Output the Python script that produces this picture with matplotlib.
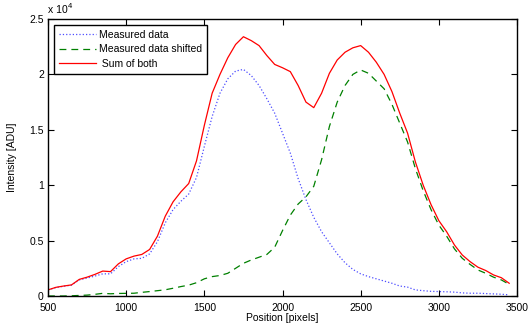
import matplotlib
matplotlib.use("Agg")
import matplotlib.pyplot as plt
from matplotlib.ticker import FixedLocator, FuncFormatter

plt.rcParams['font.family'] = ['Liberation Sans', 'DejaVu Sans']

# Detector position (pixels)
position = list(range(500, 3451, 50))

measured = [550, 760, 880, 980, 1450, 1620, 1800, 2000, 2000, 2650,
            3100, 3350, 3400, 3800, 4900, 6600, 7800, 8550, 9200, 10700,
            13500, 16200, 18300, 19600, 20300, 20450, 19900, 19000, 17800, 16500,
            14700, 12900, 10600, 8700, 7100, 5800, 4800, 3800, 3000, 2400,
            2000, 1750, 1550, 1350, 1150, 900, 800, 550, 480, 420,
            400, 380, 350, 280, 250, 250, 220, 190, 160, 100]

shifted = [0, 0, 0, 20, 50, 80, 150, 240, 200, 230,
           240, 250, 330, 400, 480, 560, 700, 850, 980, 1200,
           1550, 1750, 1850, 2050, 2500, 2950, 3250, 3500, 3750, 4400,
           5900, 7300, 8300, 8950, 9900, 12300, 15300, 17500, 19000, 20000,
           20400, 20100, 19400, 18700, 17300, 15600, 13900, 11500, 9500, 7800,
           6400, 5400, 4250, 3400, 2850, 2350, 2050, 1700, 1450, 1050]

total = [550, 780, 900, 1000, 1500, 1700, 1950, 2250, 2200, 2900,
         3350, 3600, 3750, 4200, 5400, 7200, 8500, 9400, 10150, 12200,
         15400, 18300, 20000, 21500, 22700, 23400, 23050, 22600, 21700, 20900,
         20600, 20250, 19000, 17500, 17000, 18300, 20100, 21300, 22000, 22400,
         22600, 22000, 21100, 20000, 18450, 16500, 14700, 12100, 10000, 8250,
         6800, 5800, 4600, 3700, 3100, 2600, 2300, 1900, 1650, 1150]

x_ticks = [500, 1000, 1500, 2000, 2500, 3000, 3500]
y_ticks = [0, 5000, 10000, 15000, 20000, 25000]

fig = plt.figure(figsize=(5.31, 3.33), dpi=100)
ax = fig.add_axes([48 / 531, 37 / 333, 469 / 531, 277 / 333])

ax.plot(position, measured, linestyle=':', color=(0.3, 0.3, 1.0), linewidth=0.9,
        label='Measured data')
ax.plot(position, shifted, linestyle=(0, (5.5, 4)), color=(0, 0.5, 0), linewidth=0.9,
        label='Measured data shifted')
ax.plot(position, total, linestyle='-', color='red', linewidth=0.9,
        label=' Sum of both')

ax.set_xlim(500, 3500)
ax.set_ylim(0, 25000)
ax.xaxis.set_major_locator(FixedLocator(x_ticks))
ax.yaxis.set_major_locator(FixedLocator(y_ticks))
ax.yaxis.set_major_formatter(FuncFormatter(lambda v, p: f"{v / 1e4:g}"))

ax.tick_params(direction='in', length=4, width=0.8, labelsize=7.5,
               top=True, right=True, colors='black')
ax.tick_params(axis='x', pad=5)
ax.tick_params(axis='y', pad=3)
for s in ax.spines.values():
    s.set_linewidth(1.0)

ax.set_xlabel('Position [pixels]', fontsize=7.5, labelpad=0)
ax.set_ylabel('Intensity [ADU]', fontsize=7.5, labelpad=9)

# Exponent marker above the y axis
fig.text(48 / 531, 1 - 13 / 333, 'x 10', fontsize=7.5, ha='left', va='baseline')
fig.text(68 / 531, 1 - 8 / 333, '4', fontsize=5.5, ha='left', va='baseline')

leg = ax.legend(loc='upper left', bbox_to_anchor=(6 / 469, 1 - 6 / 277),
                borderaxespad=0, fontsize=7.5, handlelength=3.6,
                handletextpad=0.3, labelspacing=0.45, borderpad=0.45,
                fancybox=False, framealpha=1, edgecolor='black')
leg.get_frame().set_linewidth(1.0)

fig.savefig('out.png', dpi=100)
